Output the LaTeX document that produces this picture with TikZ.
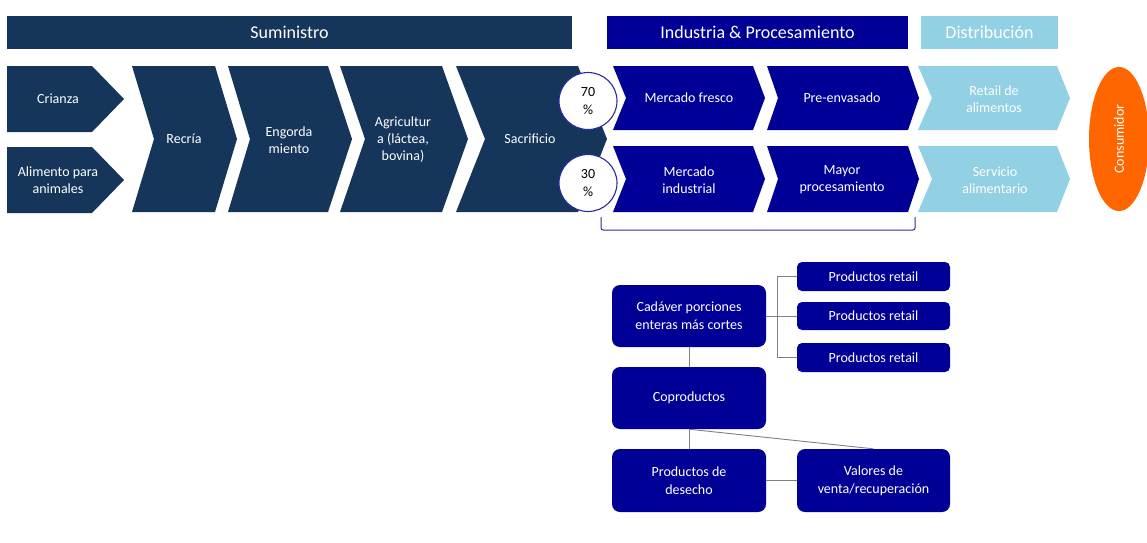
\documentclass[tikz,border=0pt]{standalone}
\usepackage{fontspec}
\setmainfont{Carlito}
\usetikzlibrary{shapes.geometric}
\definecolor{navy}{HTML}{16355B}
\definecolor{royal}{HTML}{000096}
\definecolor{sky}{HTML}{92D0E3}
\definecolor{orng}{HTML}{FF6600}
\definecolor{conngray}{HTML}{808080}
\definecolor{brk}{HTML}{2A2AA0}
\newcommand\chev[7]{%
  \fill[#7] (#1,#5) -- (#2,#5) -- ({#2+#4},{(#5+#6)/2}) -- (#2,#6) -- (#1,#6) -- ({#1+#3},{(#5+#6)/2}) -- cycle;}
\begin{document}
\begin{tikzpicture}[x=1pt,y=-1pt,
  txt/.style={text=white, align=center, font=\fontsize{14}{17}\selectfont, inner sep=0pt},
  hdr/.style={text=white, font=\fontsize{18}{20}\selectfont, minimum height=33pt, inner sep=0pt},
  pct/.style={ellipse, draw=brk, line width=1.1pt, fill=white, minimum width=58pt, minimum height=57pt, inner sep=0pt, align=center, font=\fontsize{14}{18}\selectfont},
  bbox/.style={fill=royal, rounded corners=8pt, text=white, align=center, font=\fontsize{14}{18}\selectfont, inner sep=0pt, minimum width=154pt, minimum height=62pt},
  sbox/.style={fill=royal, rounded corners=5pt, text=white, align=center, font=\fontsize{14}{17}\selectfont, inner sep=0pt, minimum width=153pt, minimum height=29pt},
  conn/.style={draw=conngray, line width=0.9pt}]
\useasboundingbox (0,0) rectangle (1147,542);
\fill[white] (0,0) rectangle (1147,542);
% headers
\node[hdr, fill=navy, minimum width=565pt] (hsum) at (289.5,32.5) {Suministro};
\node[hdr, fill=royal, minimum width=301pt] (hind) at (757.5,32.5) {Industria \& Procesamiento};
\node[hdr, fill=sky, minimum width=137pt] (hdis) at (989.5,32.5) {Distribución};
% supply chevrons
\chev{7}{92}{0}{32}{66}{132}{navy}
\chev{7}{92}{0}{32}{147}{213}{navy}
\chev{132}{215}{22}{22}{66}{212}{navy}
\chev{228}{328}{22}{24}{66}{212}{navy}
\chev{340}{442}{25}{26}{66}{212}{navy}
\chev{456}{578}{29}{29}{66}{212}{navy}
\node[txt] (cri) at (58,99) {Crianza};
\node[txt] (ali) at (58,180) {Alimento para\\animales};
\node[txt] (rec) at (184,139) {Recría};
\node[txt] (eng) at (289,140) {Engorda\\miento};
\node[txt] (agr) at (403,140) {Agricultur\\a (láctea,\\bovina)};
\node[txt] (sac) at (530,139) {Sacrificio};
% industry chevrons
\chev{613}{753}{13}{12}{66}{130}{royal}
\chev{767}{908}{11}{11}{66}{130}{royal}
\chev{613}{753}{13}{12}{146}{212}{royal}
\chev{767}{908}{11}{11}{146}{212}{royal}
\node[txt] (mfr) at (689,98) {Mercado fresco};
\node[txt] (pre) at (842,98) {Pre-envasado};
\node[txt] (min) at (689,180) {Mercado\\industrial};
\node[txt] (may) at (842,180) {Mayor\\procesamiento};
% distribution chevrons
\chev{918}{1057}{14}{13}{66}{130}{sky}
\chev{918}{1057}{14}{13}{146}{212}{sky}
\node[txt] (ret) at (994,99) {Retail de\\alimentos};
\node[txt] (ser) at (995,180) {Servicio\\alimentario};
% consumer
\node[ellipse, fill=orng, minimum width=60pt, minimum height=144pt, inner sep=0pt] (con) at (1119,139) {};
\node[txt, rotate=90] (contxt) at (con.center) {Consumidor};
% percentages
\node[pct] (p70) at (588,101) {70\\\%};
\node[pct] (p30) at (588,183) {30\\\%};
% bracket
\draw[brk, line width=1pt, rounded corners=2pt] (601,217) -- (601,230) -- (915,230) -- (915,217);
% lower tree
\node[bbox] (cad) at (689,316) {Cadáver porciones\\enteras más cortes};
\node[bbox] (cop) at (689,398) {Coproductos};
\node[bbox, minimum height=63pt] (des) at (689,480.5) {Productos de\\desecho};
\node[bbox, minimum width=153pt, minimum height=63pt] (val) at (873.5,480.5) {Valores de\\venta/recuperación};
\node[sbox] (pr1) at (873.5,276.5) {Productos retail};
\node[sbox, minimum height=28pt] (pr2) at (873.5,316) {Productos retail};
\node[sbox] (pr3) at (873.5,357.5) {Productos retail};
\coordinate (j) at (777,316);
\draw[conn] (pr1.west) -| (j) |- (pr3.west);
\draw[conn] (cad.east) -- (pr2.west);
\draw[conn] (cad.south) -- (cop.north);
\draw[conn] (cop.south) -- (des.north);
\draw[conn] (cop.south) -- (val.north);
\draw[conn] (des.east) -- (val.west);
\end{tikzpicture}
\end{document}
